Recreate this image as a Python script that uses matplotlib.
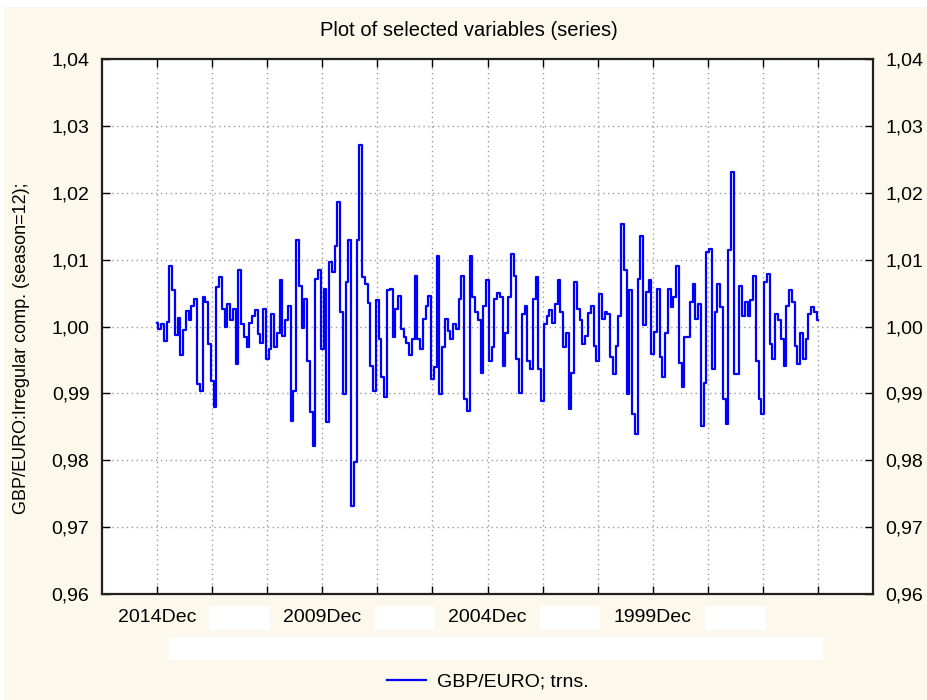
import matplotlib
matplotlib.use("Agg")
import matplotlib.pyplot as plt
import matplotlib.patches as mpatches
from matplotlib.lines import Line2D
from matplotlib.ticker import FuncFormatter, FixedLocator
from matplotlib.transforms import blended_transform_factory

plt.rcParams["font.family"] = ["Liberation Sans", "DejaVu Sans"]

# irregular component, newest month (2014Dec) first
irregular = [
    1.0005, 0.9997, 1.0003, 0.9978, 1.0006, 1.0090, 1.0054, 0.9987, 1.0012, 0.9957,
    0.9995, 1.0023, 1.0010, 1.0030, 1.0041, 0.9914, 0.9904, 1.0044, 1.0036, 0.9974,
    0.9919, 0.9879, 1.0059, 1.0074, 1.0026, 0.9999, 1.0034, 1.0009, 1.0026, 0.9944,
    1.0084, 1.0004, 0.9985, 0.9969, 1.0005, 1.0016, 1.0024, 0.9989, 0.9976, 1.0026,
    0.9951, 0.9966, 1.0019, 0.9969, 0.9991, 1.0069, 0.9986, 1.0009, 1.0031, 0.9859,
    0.9904, 1.0129, 1.0061, 0.9998, 1.0041, 0.9949, 0.9872, 0.9822, 1.0071, 1.0084,
    0.9966, 1.0056, 0.9857, 1.0096, 1.0081, 1.0121, 1.0186, 1.0021, 0.9899, 1.0066,
    1.0129, 0.9732, 0.9797, 1.0129, 1.0271, 1.0074, 1.0064, 1.0035, 0.9941, 0.9904,
    1.0039, 0.9981, 0.9924, 0.9894, 1.0054, 1.0056, 0.9984, 1.0026, 1.0046, 0.9996,
    0.9984, 0.9976, 0.9957, 0.9981, 1.0076, 0.9981, 0.9966, 1.0011, 1.0031, 1.0046,
    0.9921, 0.9939, 1.0106, 0.9899, 0.9969, 1.0011, 0.9994, 0.9981, 1.0004, 0.9997,
    1.0041, 1.0076, 0.9891, 0.9874, 1.0106, 1.0044, 1.0021, 1.0010, 0.9931, 1.0031,
    1.0069, 0.9949, 0.9969, 1.0041, 1.0050, 1.0044, 0.9941, 0.9990, 1.0044, 1.0109,
    1.0076, 0.9951, 0.9901, 1.0019, 1.0031, 0.9949, 0.9936, 1.0041, 1.0074, 0.9936,
    0.9889, 1.0004, 1.0016, 1.0024, 1.0005, 1.0034, 1.0069, 1.0021, 0.9969, 0.9991,
    0.9876, 0.9931, 1.0066, 1.0026, 1.0009, 0.9974, 0.9986, 1.0020, 1.0030, 0.9971,
    0.9949, 1.0049, 1.0011, 1.0021, 1.0018, 0.9954, 0.9929, 0.9971, 1.0016, 1.0154,
    1.0084, 0.9899, 1.0054, 0.9869, 0.9839, 1.0071, 1.0136, 1.0002, 1.0051, 1.0069,
    0.9959, 0.9992, 1.0056, 0.9954, 0.9924, 0.9991, 1.0056, 1.0029, 1.0044, 1.0091,
    0.9946, 0.9909, 0.9984, 0.9984, 1.0036, 1.0064, 1.0011, 1.0034, 0.9851, 0.9916,
    1.0111, 1.0116, 0.9936, 1.0021, 1.0064, 1.0029, 0.9891, 0.9854, 1.0114, 1.0231,
    0.9929, 0.9929, 1.0061, 1.0016, 1.0036, 1.0015, 1.0039, 1.0076, 0.9949, 0.9891,
    0.9869, 1.0066, 1.0079, 0.9974, 0.9951, 1.0019, 1.0009, 0.9981, 0.9941, 1.0031,
    1.0054, 1.0036, 0.9971, 0.9944, 0.9991, 0.9951, 0.9981, 1.0019, 1.0029, 1.0021,
    1.0009,
]
months = list(range(len(irregular)))

# x labels every 30 months, only every other one is readable in the original
label_pos = [0, 60, 120, 180]
label_text = ["2014Dec", "2009Dec", "2004Dec", "1999Dec"]
blank_pos = [30, 90, 150, 210]

y_ticks = [0.96, 0.97, 0.98, 0.99, 1.00, 1.01, 1.02, 1.03, 1.04]

bg = "#fdf8ec"
fs = 14

fig = plt.figure(figsize=(9.27, 7.0), dpi=100, facecolor="white")
fig.patches.append(mpatches.Rectangle((4 / 927, 0), 1, 1 - 7 / 700,
                                      transform=fig.transFigure,
                                      facecolor=bg, edgecolor="none", zorder=-10))

ax = fig.add_axes([102 / 927, 106 / 700, 771 / 927, 535 / 700])
ax.set_facecolor("white")

ax.plot(months, irregular, color="#0000ff", linewidth=1.6,
        drawstyle="steps-mid", label="GBP/EURO; trns.")

ax.set_xlim(-20, 260)
ax.set_ylim(0.96, 1.04)
ax.set_yticks(y_ticks)
ax.yaxis.set_major_formatter(FuncFormatter(lambda v, p: f"{v:.2f}".replace(".", ",")))

ax.set_xticks(range(0, 241, 20))
ax.set_xticklabels([])
ax.xaxis.remove_overlapping_locs = False
ax.xaxis.set_minor_locator(FixedLocator(label_pos))
ax.set_xticklabels(label_text, minor=True)
ax.tick_params(axis="x", which="minor", length=0, pad=11, labelsize=fs)

ax.tick_params(axis="both", which="major", direction="in", length=6, width=1,
               top=True, right=True, labelright=True, labelsize=fs)
ax.tick_params(axis="y", pad=9)

ax.grid(True, which="major", linestyle=(0, (1, 2.5)), color="#9a9a9a", linewidth=1.0)
ax.set_axisbelow(True)
for s in ax.spines.values():
    s.set_linewidth(1.6)
    s.set_color("#202020")

# white blank label boxes
trans = blended_transform_factory(ax.transData, fig.transFigure)
for p in blank_pos:
    ax.add_patch(mpatches.Rectangle((p - 11, (700 - 630) / 700), 22, 24 / 700,
                                    transform=trans, facecolor="white",
                                    edgecolor="none", clip_on=False))
fig.patches.append(mpatches.Rectangle((169 / 927, (700 - 660) / 700), 654 / 927, 23 / 700,
                                      transform=fig.transFigure,
                                      facecolor="white", edgecolor="none"))

fig.text(469 / 927, 1 - 31 / 700, "Plot of selected variables (series)",
         ha="center", va="center", fontsize=14.5)
fig.text(22 / 927, 1 - 348 / 700, "GBP/EURO:Irregular comp. (season=12);",
         rotation=90, ha="center", va="center", fontsize=13)

handle = Line2D([], [], color="#0000ff", linewidth=1.6)
fig.legend([handle], ["GBP/EURO; trns."], loc="center",
           bbox_to_anchor=(488 / 927, 1 - 682 / 700), frameon=False,
           fontsize=fs, handlelength=2.0, handletextpad=0.6)

fig.savefig("out.png", dpi=100, facecolor=fig.get_facecolor())
